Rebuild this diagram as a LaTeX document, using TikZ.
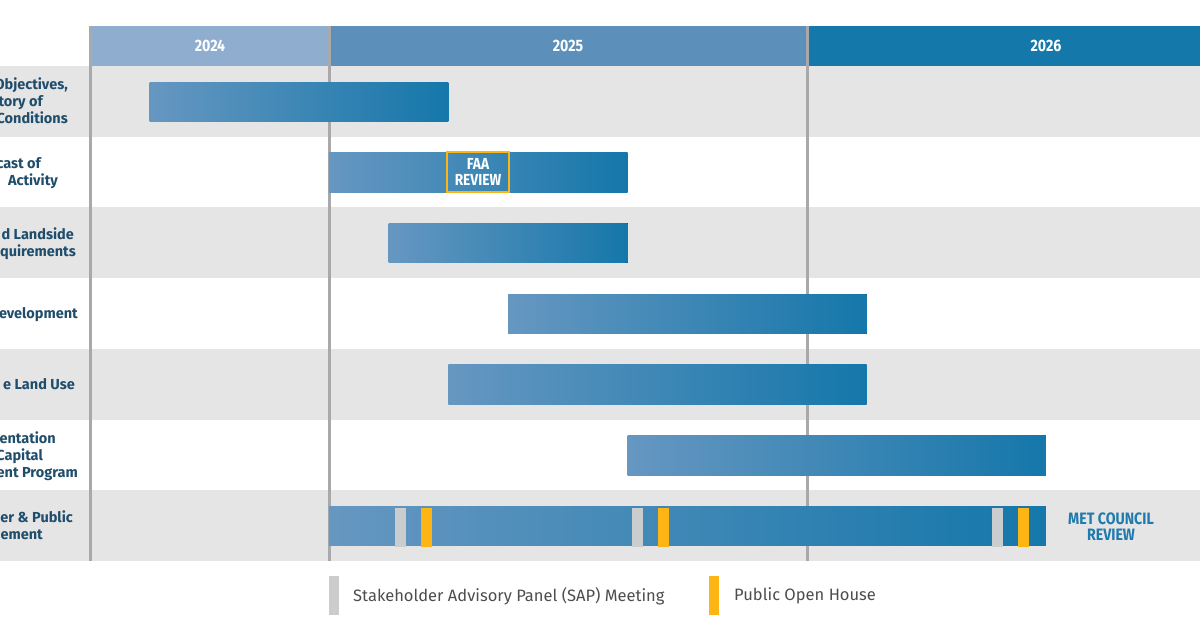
\documentclass[tikz,border=0pt]{standalone}
\usepackage{fontspec}
\setmainfont{Fira Sans}
\newfontfamily\condfont{Fira Sans}[FakeStretch=0.86]
\usetikzlibrary{positioning}
\definecolor{rowgray}{HTML}{E5E5E5}
\definecolor{gridline}{HTML}{A9A9AB}
\definecolor{head24}{HTML}{8FADCF}
\definecolor{head25}{HTML}{5C90BA}
\definecolor{head26}{HTML}{1478AA}
\definecolor{barlight}{HTML}{6697C1}
\definecolor{bardark}{HTML}{1577AA}
\definecolor{sapgray}{HTML}{CBCCCE}
\definecolor{pohorange}{HTML}{FDB515}
\definecolor{labtext}{HTML}{1F4D6B}
\definecolor{metblue}{HTML}{1F7AAE}
\definecolor{legtext}{HTML}{4D4D4F}
\tikzset{
  yr/.style={text=white, font=\condfont\bfseries\fontsize{16.5}{18}\selectfont},
  taskbar/.style={left color=barlight, right color=bardark},
  lab/.style={text=labtext, font=\bfseries\fontsize{14.5}{16}\selectfont, anchor=base east, inner sep=0pt},
  grid/.style={draw=gridline, line width=3pt},
  sap/.style={fill=sapgray},
  poh/.style={fill=pohorange},
  review/.style={text=white, font=\condfont\bfseries\fontsize{16}{17}\selectfont, align=center,
    draw=pohorange, line width=2.5pt, minimum width=62pt, minimum height=40pt, inner sep=0pt},
  met/.style={text=metblue, font=\condfont\bfseries\fontsize{16.5}{17}\selectfont, align=center, inner sep=0pt},
  leg/.style={text=legtext, font=\fontsize{16.5}{18}\selectfont, anchor=west, inner sep=0pt},
}

\begin{document}
\begin{tikzpicture}[x=1pt, y=-1pt]
  \useasboundingbox (0,0) rectangle (1200,630);
  \def\xo{90}
  \def\mw{39.83}
  \def\rh{70.7}

  % row bands
  \foreach \r in {1,3,5,7}
    \fill[rowgray] (0,{66+(\r-1)*\rh}) rectangle (1200,{66+\r*\rh});

  % year header
  \fill[head24] (90,26) rectangle (329,66);
  \fill[head25] (329,26) rectangle (807,66);
  \fill[head26] (807,26) rectangle (1200,66);
  \node[yr] (y2024) at (210,46) {2024};
  \node[yr] (y2025) at (568,46) {2025};
  \node[yr] (y2026) at (1046,46) {2026};

  \foreach \x in {90,329,807}
    \draw[grid] (\x,26) -- (\x,561);

  % task bars (row / start month / end month, from Jul 2024)
  \foreach \r/\s/\e in {1/1.5/9, 2/6/13.5, 3/7.5/13.5, 4/10.5/19.5, 5/9/19.5, 6/13.5/24, 7/6/24}
    \fill[taskbar] ({\xo+\s*\mw},{66+(\r-1)*\rh+16}) rectangle ({\xo+\e*\mw},{66+(\r-1)*\rh+55.5});

  % meetings on the last row
  \foreach \x in {395,632,992}
    \fill[sap] (\x,507.5) rectangle ({\x+11},547);
  \foreach \x in {421,658,1018}
    \fill[poh] (\x,507.5) rectangle ({\x+11},547);

  \node[review] (faa) at (478,172) {FAA\\[-1pt]REVIEW};
  \node[met] (met) at (1111,527) {MET COUNCIL\\[-1pt]REVIEW};

  % row labels (cut at the left edge)
  \node[lab] (l1a) at (68,89) {Objectives,};
  \node[lab] (l1b) at (43,106) {tory of};
  \node[lab] (l1c) at (68,123) {Conditions};
  \node[lab] (l2a) at (41,168) {cast of};
  \node[lab] (l2b) at (58,185) {Activity};
  \node[lab] (l3a) at (74,239) {d Landside};
  \node[lab] (l3b) at (76,256) {quirements};
  \node[lab] (l4) at (78,318) {evelopment};
  \node[lab] (l5) at (75,389) {e Land Use};
  \node[lab] (l6a) at (56,443) {entation};
  \node[lab] (l6b) at (43,460) {Capital};
  \node[lab] (l6c) at (78,477) {ent Program};
  \node[lab] (l7a) at (73,522) {er \& Public};
  \node[lab] (l7b) at (43,539) {ement};

  % legend
  \fill[sapgray] (329,576) rectangle (339,615);
  \node[leg] (legsap) at (353,596) {Stakeholder Advisory Panel (SAP) Meeting};
  \fill[pohorange] (709,576) rectangle (719,615);
  \node[leg] (legpoh) at (734,596) {Public Open House};
\end{tikzpicture}
\end{document}
